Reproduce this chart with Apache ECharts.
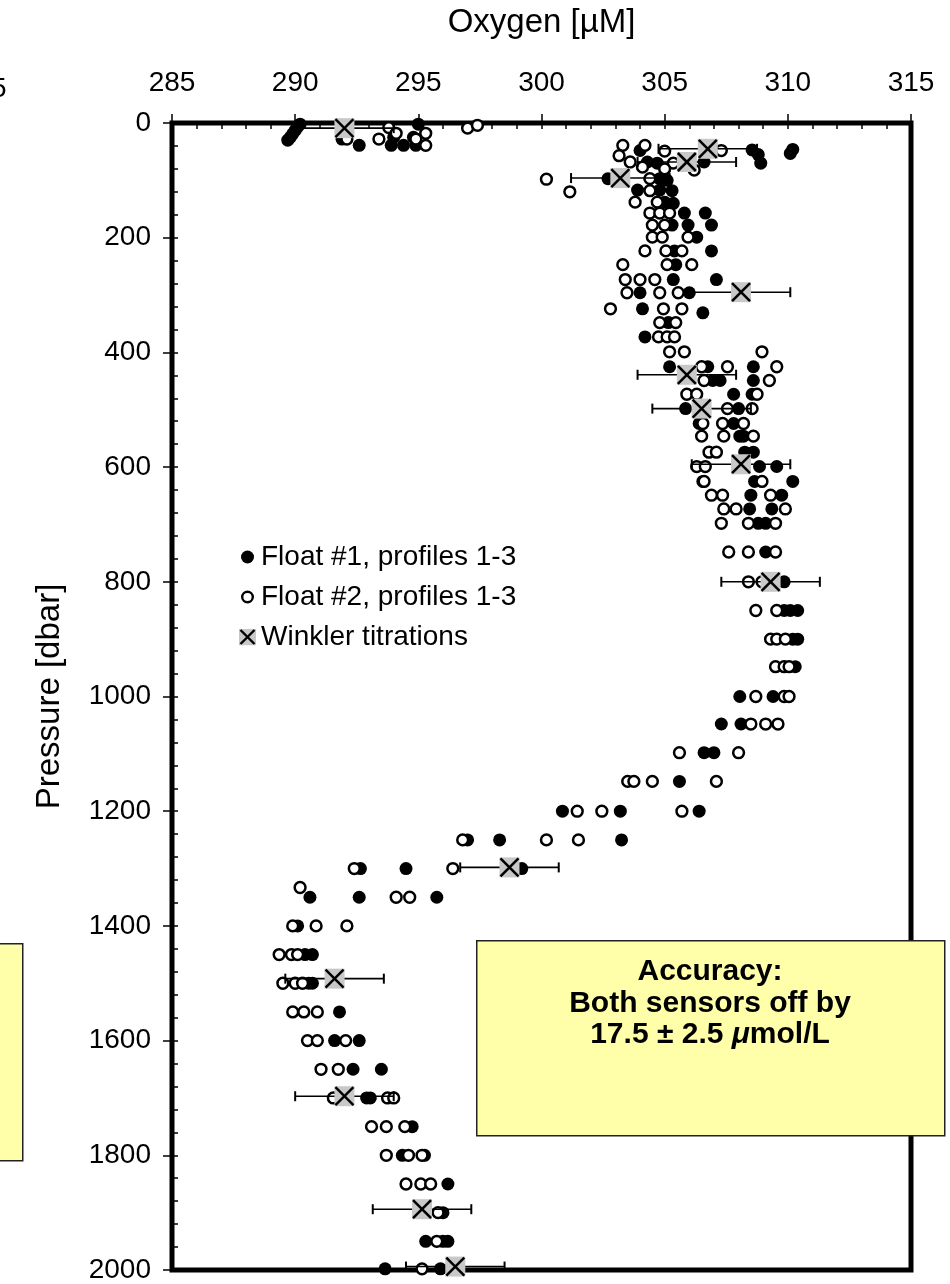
<!DOCTYPE html>
<html>
<head>
<meta charset="utf-8">
<title>Oxygen profiles</title>
<script src="https://cdn.jsdelivr.net/npm/echarts@6/dist/echarts.min.js"></script>
<style>
  html, body { margin: 0; padding: 0; background: #fff; }
  #chart { width: 950px; height: 1284px; }
</style>
</head>
<body>
<div id="chart"></div>
<script>
// Axis ticks
const oxygenTicks = [285, 290, 295, 300, 305, 310, 315];
const pressureTicks = [0, 200, 400, 600, 800, 1000, 1200, 1400, 1600, 1800, 2000];

// Float #1 (filled markers): [oxygen µM, pressure dbar]
const float1 = [
  [290.2, 2], [290.1, 7], [290.0, 13], [289.9, 19], [289.8, 25], [289.7, 30],
  [291.9, 28], [292.6, 39], [294.0, 25], [293.9, 39], [294.4, 39], [294.8, 25], [294.9, 39], [295.0, 2],
  [304.0, 48], [308.55, 47], [310.2, 46], [310.1, 53], [308.8, 55],
  [304.3, 68], [304.7, 70], [306.6, 68], [308.9, 70],
  [302.7, 97], [304.8, 97], [305.1, 100],
  [303.9, 117], [304.8, 117], [305.3, 118],
  [305.0, 138], [305.35, 140],
  [305.8, 157], [306.65, 157],
  [305.3, 178], [305.95, 178], [306.9, 178],
  [306.3, 199],
  [305.4, 223], [306.9, 223],
  [305.45, 247],
  [305.35, 273], [307.1, 273],
  [304.0, 296], [306.0, 296],
  [304.1, 324], [306.55, 331],
  [305.15, 348],
  [304.2, 373],
  [305.2, 425], [306.75, 425], [308.6, 425],
  [306.95, 449], [307.25, 449], [308.6, 449],
  [307.8, 473], [308.55, 473],
  [305.85, 498], [308.0, 498],
  [306.4, 524], [307.8, 524],
  [308.05, 546], [308.2, 546],
  [308.25, 574], [308.6, 574],
  [308.85, 599], [309.55, 599],
  [306.55, 625], [308.65, 625], [310.2, 625],
  [308.5, 649], [309.75, 649],
  [308.45, 673], [309.35, 673],
  [308.8, 698], [309.1, 698],
  [309.1, 748],
  [309.85, 800],
  [309.85, 850], [310.1, 850], [310.4, 850],
  [310.2, 900], [310.4, 900],
  [310.3, 948],
  [308.05, 1000], [309.4, 1000],
  [307.3, 1048], [308.1, 1048],
  [306.6, 1098], [307.0, 1098],
  [305.6, 1148],
  [300.85, 1200], [303.2, 1200], [306.4, 1200],
  [297.0, 1250], [298.3, 1250], [303.25, 1250],
  [292.65, 1300], [294.5, 1300], [299.2, 1300],
  [290.6, 1350], [292.6, 1350], [295.75, 1350],
  [290.1, 1400],
  [290.4, 1450], [290.7, 1450],
  [290.55, 1500], [290.7, 1500],
  [291.8, 1550],
  [291.6, 1600], [292.6, 1600],
  [292.35, 1650], [293.5, 1650],
  [292.9, 1700], [293.05, 1700],
  [294.75, 1750],
  [294.35, 1800], [295.25, 1800],
  [296.2, 1850],
  [296.0, 1900],
  [295.3, 1950], [296.0, 1950], [296.2, 1950],
  [293.65, 1998], [295.9, 1998]
];

// Float #2 (open markers): [oxygen µM, pressure dbar]
const float2 = [
  [292.1, 28], [293.4, 28], [293.8, 8], [294.1, 18], [295.3, 18], [295.3, 39], [294.9, 28], [297.0, 9], [297.4, 4],
  [303.3, 39], [304.2, 39], [305.0, 49], [307.3, 48],
  [303.15, 57],
  [303.6, 68], [305.35, 70],
  [304.1, 77], [305.0, 80], [306.2, 82],
  [300.2, 98], [304.4, 97],
  [301.15, 120], [304.4, 118],
  [303.8, 138], [304.7, 138],
  [304.4, 157], [304.8, 157], [305.2, 157],
  [304.5, 178], [305.0, 178],
  [304.5, 199], [304.9, 199], [305.95, 199],
  [304.2, 223], [305.05, 223], [305.7, 223],
  [303.3, 247], [305.1, 247], [306.1, 247],
  [303.4, 273], [304.0, 273], [304.6, 273],
  [303.47, 296], [304.8, 296], [305.55, 296],
  [302.8, 324], [304.95, 324], [305.7, 324],
  [304.8, 348], [305.45, 348],
  [304.75, 373], [305.1, 373], [305.4, 373],
  [305.2, 399], [305.8, 399], [308.95, 399],
  [306.5, 425], [307.55, 425], [309.55, 425],
  [306.6, 449], [309.25, 449],
  [305.9, 473], [306.3, 473], [308.75, 473],
  [307.55, 498], [308.55, 498],
  [306.55, 524], [307.35, 524], [308.2, 524],
  [306.5, 546], [307.4, 546], [308.6, 546],
  [306.8, 574], [307.1, 574],
  [306.3, 599], [306.65, 599],
  [306.6, 625], [308.95, 625],
  [306.9, 649], [307.35, 649], [309.3, 649],
  [307.4, 673], [307.9, 673], [309.9, 673],
  [307.3, 698], [308.4, 698], [309.5, 698],
  [307.6, 748], [308.4, 748], [309.5, 748],
  [308.4, 800], [308.95, 800],
  [308.7, 850], [309.55, 850],
  [309.3, 900], [309.55, 900], [309.9, 900],
  [309.5, 948], [309.85, 948], [310.05, 948],
  [308.7, 1000], [309.85, 1000], [310.05, 1000],
  [308.5, 1048], [309.1, 1048], [309.6, 1048],
  [305.6, 1098], [308.0, 1098],
  [303.5, 1148], [303.75, 1148], [304.5, 1148], [307.1, 1148],
  [301.45, 1200], [302.45, 1200], [305.7, 1200],
  [296.8, 1250], [300.2, 1250], [301.5, 1250],
  [292.4, 1300], [296.4, 1300],
  [290.2, 1333],
  [294.1, 1350], [294.65, 1350],
  [289.9, 1400], [290.85, 1400], [292.1, 1400],
  [289.35, 1450], [289.85, 1450], [290.1, 1450],
  [289.5, 1500], [290.0, 1500], [290.3, 1500],
  [289.9, 1550], [290.35, 1550], [290.9, 1550],
  [290.5, 1600], [290.9, 1600], [292.05, 1600],
  [291.05, 1650], [291.75, 1650],
  [291.55, 1700], [293.75, 1700], [294.0, 1700],
  [293.1, 1750], [293.7, 1750], [294.45, 1750],
  [293.7, 1800], [294.6, 1800], [295.15, 1800],
  [294.5, 1850], [295.1, 1850], [295.5, 1850],
  [295.8, 1900],
  [295.75, 1950],
  [295.15, 1998]
];

// Winkler titrations: [oxygen µM, pressure dbar] and ± error (µM)
const winkler = [
  [292.0, 9], [306.75, 45], [305.9, 68], [303.2, 96], [308.1, 295],
  [305.9, 439], [306.5, 498], [308.1, 595], [309.3, 800], [298.7, 1298],
  [291.6, 1492], [292.0, 1697], [295.15, 1894], [296.5, 1994]
];
const winklerErr = [2.0, 2.0, 2.0, 2.0, 2.0, 2.0, 2.0, 2.0, 2.0, 2.0, 2.0, 2.0, 2.0, 2.0];

const FONT = 'Arial, "Liberation Sans", Helvetica, sans-serif';

function svgIcon(body) {
  return 'image://data:image/svg+xml;charset=utf-8,' + encodeURIComponent(
    "<svg xmlns='http://www.w3.org/2000/svg' width='17' height='17' viewBox='0 0 17 17'>" + body + '</svg>');
}
const iconFilled = svgIcon("<circle cx='8.5' cy='8.5' r='6.5' fill='#000'/>");
const iconOpen = svgIcon("<circle cx='8.5' cy='8.5' r='5.3' fill='#fff' stroke='#000' stroke-width='2.4'/>");
const iconCross = svgIcon("<rect x='0' y='0' width='17' height='17' fill='#c8c8c8'/>" +
  "<path d='M1.5 1.5 L15.5 15.5 M15.5 1.5 L1.5 15.5' stroke='#000' stroke-width='2.4'/>");

const chart = echarts.init(document.getElementById('chart'), null, { renderer: 'canvas' });

const oxMin = oxygenTicks[0], oxMax = oxygenTicks[oxygenTicks.length - 1];
const prMin = pressureTicks[0], prMax = pressureTicks[pressureTicks.length - 1];
const plain = (v) => String(v);

chart.setOption({
  animation: false,
  backgroundColor: '#fff',
  grid: {
    left: 172, right: 39, top: 123, bottom: 11,
    show: true, borderColor: '#000', borderWidth: 5, backgroundColor: 'transparent'
  },
  xAxis: [
    {
      type: 'value', position: 'top', min: oxMin, max: oxMax,
      interval: oxygenTicks[1] - oxygenTicks[0],
      name: 'Oxygen [µM]', nameLocation: 'middle', nameGap: 84,
      nameTextStyle: { fontFamily: FONT, fontSize: 33, color: '#000' },
      axisLine: { show: false },
      axisTick: { show: true, inside: false, length: 9, lineStyle: { color: '#000', width: 1.5 } },
      axisLabel: { fontFamily: FONT, fontSize: 28, color: '#000', margin: 26, formatter: plain },
      splitLine: { show: false }
    },
    {
      type: 'value', position: 'top', min: oxMin, max: oxMax, interval: 1,
      axisLine: { show: false },
      axisTick: { show: true, inside: true, length: 6, lineStyle: { color: '#000', width: 1.5 } },
      axisLabel: { show: false },
      splitLine: { show: false }
    }
  ],
  yAxis: [
    {
      type: 'value', position: 'left', inverse: true, min: prMin, max: prMax,
      interval: pressureTicks[1] - pressureTicks[0],
      name: 'Pressure [dbar]', nameLocation: 'middle', nameGap: 106,
      nameTextStyle: { fontFamily: FONT, fontSize: 33, color: '#000' },
      axisLine: { show: false },
      axisTick: { show: true, inside: false, length: 9, lineStyle: { color: '#000', width: 1.5 } },
      axisLabel: { fontFamily: FONT, fontSize: 28, color: '#000', margin: 21, formatter: plain },
      splitLine: { show: false }
    },
    {
      type: 'value', position: 'left', inverse: true, min: prMin, max: prMax, interval: 40,
      axisLine: { show: false },
      axisTick: { show: true, inside: true, length: 6, lineStyle: { color: '#000', width: 1.5 } },
      axisLabel: { show: false },
      splitLine: { show: false }
    }
  ],
  legend: {
    orient: 'vertical', left: 234, top: 538,
    itemWidth: 17, itemHeight: 17, itemGap: 12,
    textStyle: { fontFamily: FONT, fontSize: 28, color: '#000' },
    data: [
      { name: 'Float #1, profiles 1-3', icon: iconFilled },
      { name: 'Float #2, profiles 1-3', icon: iconOpen },
      { name: 'Winkler titrations', icon: iconCross }
    ],
    selectedMode: false
  },
  series: [
    {
      name: 'Float #1, profiles 1-3', type: 'scatter', xAxisIndex: 0, yAxisIndex: 0,
      symbol: 'circle', symbolSize: 13,
      itemStyle: { color: '#000', opacity: 1 },
      data: float1, z: 3
    },
    {
      name: 'Float #2, profiles 1-3', type: 'scatter', xAxisIndex: 0, yAxisIndex: 0,
      symbol: 'circle', symbolSize: 10.8,
      itemStyle: { color: '#fff', borderColor: '#000', borderWidth: 2.5, opacity: 1 },
      data: float2, z: 4
    },
    {
      name: 'Winkler titrations', type: 'custom', xAxisIndex: 0, yAxisIndex: 0,
      itemStyle: { color: '#c8c8c8' },
      encode: { x: 0, y: 1 },
      data: winkler.map((d, i) => [d[0], d[1], winklerErr[i]]),
      z: 5,
      renderItem: function (params, api) {
        const v = api.value(0), p = api.value(1), e = api.value(2);
        const c = api.coord([v, p]);
        const l = api.coord([v - e, p]);
        const r = api.coord([v + e, p]);
        const half = 10, cap = 5;
        const black = { stroke: '#000', lineWidth: 1.6 };
        return {
          type: 'group',
          children: [
            { type: 'line', shape: { x1: l[0], y1: c[1], x2: r[0], y2: c[1] }, style: black },
            { type: 'line', shape: { x1: l[0], y1: c[1] - cap, x2: l[0], y2: c[1] + cap }, style: { stroke: '#000', lineWidth: 2 } },
            { type: 'line', shape: { x1: r[0], y1: c[1] - cap, x2: r[0], y2: c[1] + cap }, style: { stroke: '#000', lineWidth: 2 } },
            { type: 'rect', shape: { x: c[0] - half, y: c[1] - half, width: 2 * half, height: 2 * half }, style: { fill: '#c8c8c8' } },
            { type: 'line', shape: { x1: c[0] - half + 1, y1: c[1] - half + 1, x2: c[0] + half - 1, y2: c[1] + half - 1 }, style: { stroke: '#000', lineWidth: 2.5 } },
            { type: 'line', shape: { x1: c[0] + half - 1, y1: c[1] - half + 1, x2: c[0] - half + 1, y2: c[1] + half - 1 }, style: { stroke: '#000', lineWidth: 2.5 } }
          ]
        };
      }
    }
  ],
  graphic: [
    // Accuracy note
    {
      type: 'rect', z: 100, left: 476, top: 940,
      shape: { width: 468, height: 195 },
      style: { fill: '#ffffaa', stroke: '#222', lineWidth: 1.5 }
    },
    {
      type: 'text', z: 101, x: 710, y: 956,
      style: {
        text: 'Accuracy:\nBoth sensors off by\n17.5 ± 2.5 {i|μ}mol/L',
        fontFamily: FONT, fontSize: 30, fontWeight: 'bold', fill: '#000',
        align: 'center', verticalAlign: 'top', lineHeight: 31.5,
        rich: { i: { fontFamily: FONT, fontSize: 30, fontWeight: 'bold', fontStyle: 'italic', lineHeight: 31.5 } }
      }
    },
    // Edge of the neighbouring panel
    {
      type: 'rect', z: 100, left: -3, top: 943,
      shape: { width: 25, height: 217 },
      style: { fill: '#ffffaa', stroke: '#222', lineWidth: 1.5 }
    },
    {
      type: 'text', z: 100, x: -9, y: 89,
      style: { text: '5', fontFamily: FONT, fontSize: 28, fill: '#000', verticalAlign: 'middle' }
    }
  ]
});
</script>
</body>
</html>
